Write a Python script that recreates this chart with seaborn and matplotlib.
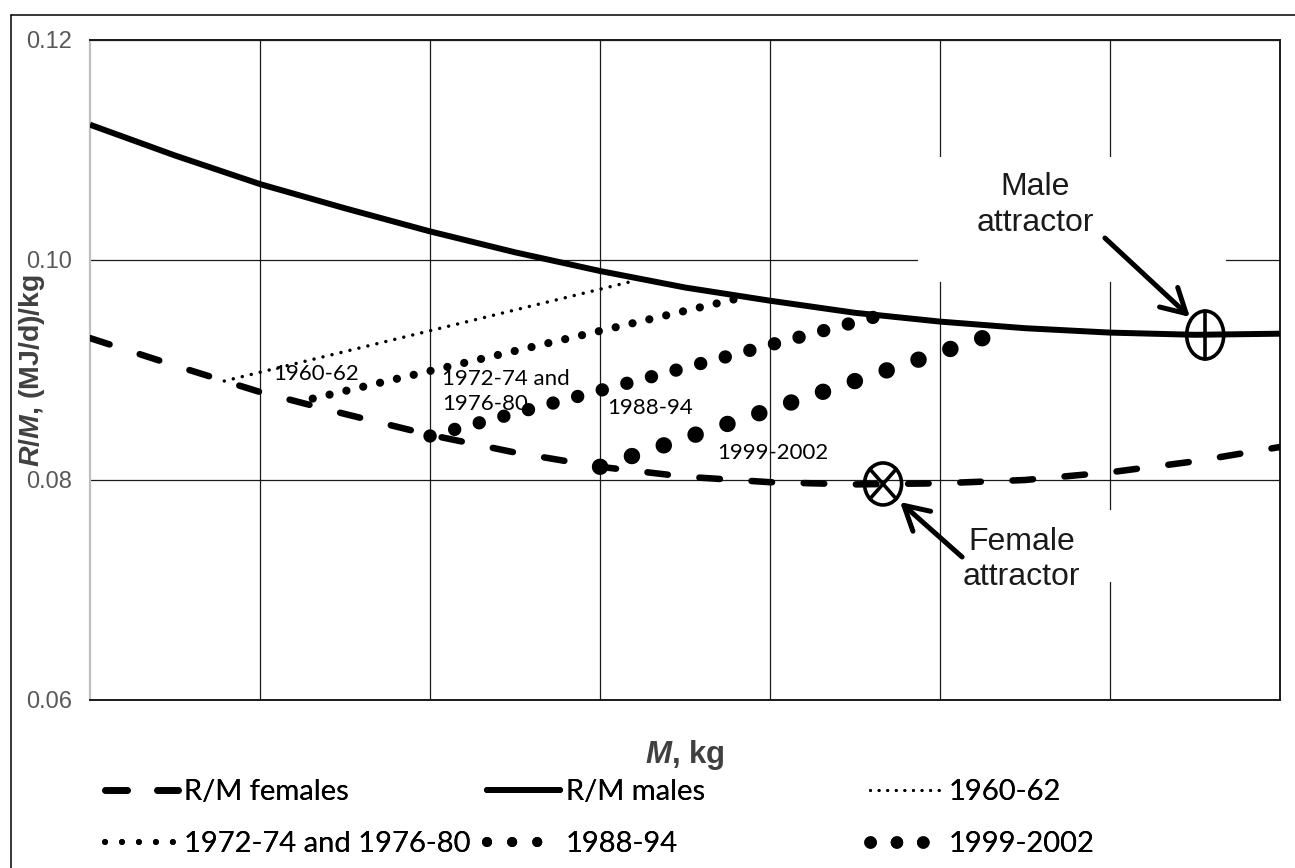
import matplotlib
matplotlib.use("Agg")
import matplotlib.pyplot as plt
import seaborn as sns
from matplotlib.lines import Line2D
from matplotlib.patches import Ellipse, Rectangle

# ---------------- data ----------------
male_x = [0, 0.5, 1, 1.5, 2, 2.5, 3, 3.5, 4, 4.5, 5, 5.5, 6, 6.5, 7]
male_y = [0.1123, 0.1095, 0.1069, 0.1047, 0.1026, 0.1007, 0.0990, 0.0975,
          0.0963, 0.0952, 0.0944, 0.0938, 0.0934, 0.0932, 0.0933]

fem_x = [0, 0.5, 1, 1.5, 2, 2.5, 3, 3.5, 4, 4.5, 5, 5.5, 6, 6.5, 7]
fem_y = [0.0929, 0.0904, 0.0880, 0.0860, 0.0841, 0.0825, 0.0812, 0.0803,
         0.0798, 0.0796, 0.0797, 0.0800, 0.0807, 0.0817, 0.0830]

p1960_x = [0.79, 3.20]
p1960_y = [0.0890, 0.0981]
p1972_x = [1.31, 3.81]
p1972_y = [0.0874, 0.0965]
p1988_x = [2.00, 4.61]
p1988_y = [0.0840, 0.0948]
p1999_x = [3.00, 5.27]
p1999_y = [0.0812, 0.0930]

male_attr = (6.56, 0.09318)
fem_attr = (4.665, 0.07964)

y_ticks = [0.06, 0.08, 0.10, 0.12]
y_ticklabels = ["0.06", "0.08", "0.10", "0.12"]
x_grid = [1, 2, 3, 4, 5, 6]

series_labels = ["R/M females", "R/M males", "1960-62",
                 "1972-74 and 1976-80", "1988-94", "1999-2002"]
period_labels = ["1960-62", "1972-74 and\n1976-80", "1988-94", "1999-2002"]

# ---------------- style ----------------
sns.set_style("white")
plt.rcParams['font.family'] = ['Liberation Sans', 'DejaVu Sans']
plt.rcParams['mathtext.fontset'] = 'custom'
plt.rcParams['mathtext.rm'] = 'Liberation Sans:bold'
plt.rcParams['mathtext.it'] = 'Liberation Sans:italic:bold'
plt.rcParams['mathtext.bf'] = 'Liberation Sans:bold'

W, H = 1295, 868
fig = plt.figure(figsize=(W / 100, H / 100), dpi=100)
ax = fig.add_axes([90 / W, 1 - 700 / H, 1190 / W, 660 / H])

K = 'black'
# curves
sns.lineplot(x=fem_x, y=fem_y, ax=ax, color=K, lw=4.7, errorbar=None,
             linestyle=(0, (3.15, 4.85)), dash_capstyle='round', zorder=3)
sns.lineplot(x=male_x, y=male_y, ax=ax, color=K, lw=4.3, errorbar=None,
             solid_capstyle='butt', zorder=3)
sns.lineplot(x=p1960_x, y=p1960_y, ax=ax, color=K, lw=2.5, errorbar=None,
             linestyle=(0, (0.01, 2.65)), dash_capstyle='round', zorder=3)
sns.lineplot(x=p1972_x, y=p1972_y, ax=ax, color=K, lw=5.9, errorbar=None,
             linestyle=(0, (0.01, 2.1)), dash_capstyle='round', zorder=3)
sns.lineplot(x=p1988_x, y=p1988_y, ax=ax, color=K, lw=9.6, errorbar=None,
             linestyle=(0, (0.01, 1.9)), dash_capstyle='round', zorder=3)
sns.lineplot(x=p1999_x, y=p1999_y, ax=ax, color=K, lw=11.8, errorbar=None,
             linestyle=(0, (0.01, 2.04)), dash_capstyle='round', zorder=3)

# axes
ax.set_xlim(0, 7)
ax.set_ylim(0.06, 0.12)
ax.set_xticks(x_grid)
ax.set_xticklabels([])
ax.set_yticks(y_ticks)
ax.set_yticklabels(y_ticklabels)
ax.tick_params(length=0)
ax.tick_params(axis='y', labelsize=17, labelcolor='#595959', pad=13)
ax.set_axisbelow(True)
ax.grid(True, color='#1a1a1a', lw=0.9)
for s in ['top', 'right', 'bottom']:
    ax.spines[s].set_color('#1a1a1a')
    ax.spines[s].set_linewidth(1.4)
ax.spines['left'].set_color('#bfbfbf')
ax.spines['left'].set_linewidth(1.6)

ax.set_xlabel(r"$\it{M}$, kg", fontsize=22.5, fontweight='bold',
              color='#404040', labelpad=24)
ax.set_ylabel(r"$\it{R/M}$, (MJ/d)/kg", fontsize=20.5, fontweight='bold',
              color='#404040')
ax.yaxis.set_label_coords(-0.036, 0.5)

# white text boxes of the annotations
ax.add_patch(Rectangle((4.87, 0.0980), 1.81, 0.01136, facecolor='white',
                       edgecolor='none', zorder=1))
ax.add_patch(Rectangle((5.03, 0.07073), 0.99, 0.00654, facecolor='white',
                       edgecolor='none', zorder=1))

# attractor symbols
ew, ehm, ehf = 0.218, 0.004364, 0.003818
ax.add_patch(Ellipse(male_attr, ew, ehm, fill=False, ec=K, lw=2.6, zorder=6))
ax.plot([male_attr[0], male_attr[0]],
        [male_attr[1] - ehm / 2, male_attr[1] + ehm / 2],
        color=K, lw=2.6, zorder=6)
ax.add_patch(Ellipse(fem_attr, ew, ehf, fill=False, ec=K, lw=2.6, zorder=6))
dx, dy = 0.707 * ew / 2, 0.707 * ehf / 2
ax.plot([fem_attr[0] - dx, fem_attr[0] + dx],
        [fem_attr[1] - dy, fem_attr[1] + dy], color=K, lw=2.6, zorder=6)
ax.plot([fem_attr[0] - dx, fem_attr[0] + dx],
        [fem_attr[1] + dy, fem_attr[1] - dy], color=K, lw=2.6, zorder=6)

# arrows
astyle = '->,head_length=0.86,head_width=0.48'
ax.annotate('', xy=(6.47, 0.09482), xytext=(5.97, 0.1020),
            arrowprops=dict(arrowstyle=astyle, lw=3.6, color=K,
                            shrinkA=0, shrinkB=0, mutation_scale=20),
            zorder=7)
ax.annotate('', xy=(4.765, 0.0780), xytext=(5.13, 0.0730),
            arrowprops=dict(arrowstyle=astyle, lw=3.6, color=K,
                            shrinkA=0, shrinkB=0, mutation_scale=20),
            zorder=7)

ax.text(5.56, 0.1050, "Male\nattractor", ha='center', va='center',
        fontsize=23, color='#1a1a1a', linespacing=1.22, zorder=8)
ax.text(5.48, 0.07273, "Female\nattractor", ha='center', va='center',
        fontsize=23, color='#1a1a1a', linespacing=1.22, zorder=8)

# period labels
lab_pos = [(1.076, 0.0896), (2.07, 0.08805), (3.04, 0.08655), (3.69, 0.08245)]
for (lx, ly), t in zip(lab_pos, period_labels):
    ax.text(lx, ly, t, ha='left', va='center', fontsize=16,
            family=['Lato', 'DejaVu Sans'], color='black', linespacing=1.3,
            zorder=4)

# legends (three columns of two rows)
def h(lw, ls):
    return Line2D([0, 1], [0, 0], color=K, lw=lw, linestyle=ls,
                  dash_capstyle='round', solid_capstyle='round')

handles = [h(4.8, (0, (3.3, 4.5))), h(4.3, '-'), h(2.2, (0, (0.01, 2.8))),
           h(4.3, (0, (0.01, 2.83))), h(7.2, (0, (0.01, 2.5))),
           h(9.0, (0, (0.01, 2.1)))]
col_x = [105, 487, 870]
for c in range(3):
    leg = fig.legend([handles[c], handles[c + 3]],
                     [series_labels[c], series_labels[c + 3]],
                     loc='center left',
                     bbox_to_anchor=(col_x[c] / W, 1 - 818 / H),
                     frameon=False, borderpad=0, borderaxespad=0,
                     handlelength=2.5, handletextpad=0.2, labelspacing=0.88,
                     prop={'family': ['Lato', 'DejaVu Sans'], 'size': 21})
    for t in leg.get_texts():
        t.set_color('black')
    fig.add_artist(leg)

# figure frame (only top and left edges visible)
fig.add_artist(Line2D([11.5 / W, 11.5 / W], [0, 1 - 15 / H], color=K,
                      lw=1.1, transform=fig.transFigure))
fig.add_artist(Line2D([11.5 / W, 1], [1 - 15 / H, 1 - 15 / H], color=K,
                      lw=1.1, transform=fig.transFigure))

fig.savefig("out.png", dpi=100, facecolor='white')
